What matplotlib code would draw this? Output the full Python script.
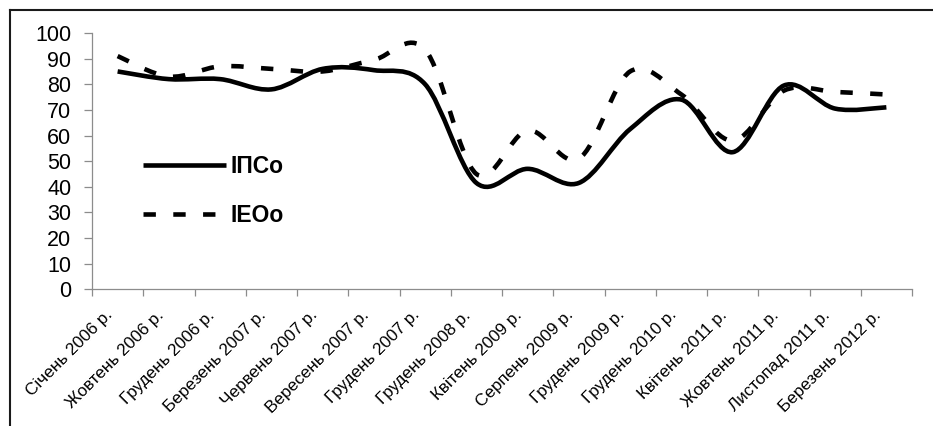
import numpy as np
import matplotlib
matplotlib.use('Agg')
import matplotlib.pyplot as plt
import matplotlib.transforms as mtransforms
from matplotlib.path import Path
from matplotlib.patches import PathPatch
from matplotlib.lines import Line2D

plt.rcParams['font.family'] = ['Liberation Sans', 'DejaVu Sans']

# --- data
months = ['Січень 2006 р.', 'Жовтень 2006 р.', 'Грудень 2006 р.', 'Березень 2007 р.',
          'Червень 2007 р.', 'Вересень 2007 р.', 'Грудень 2007 р.', 'Грудень 2008 р.',
          'Квітень 2009 р.', 'Серпень 2009 р.', 'Грудень 2009 р.', 'Грудень 2010 р.',
          'Квітень 2011 р.', 'Жовтень 2011 р.', 'Листопад 2011 р.', 'Березень 2012 р.']
ipso = [85, 82, 82, 78, 86, 85.5, 80, 41.5, 47, 41.5, 62.5, 74, 53.5, 79.5, 70.5, 71]
ieoo = [91, 83, 87, 86, 85, 89.5, 93.5, 45, 62, 51, 85, 76, 58, 77.5, 77, 76]
yticks = list(range(0, 101, 10))

DASH = (0, (2.7, 3.8))
LW = 3.3


def smooth_path(ys):
    # excel-like smoothed line: cubic bezier through every point
    pts = np.column_stack([np.arange(len(ys), dtype=float), np.asarray(ys, float)])
    n = len(pts)
    verts = [pts[0]]
    codes = [Path.MOVETO]
    for i in range(n - 1):
        p0 = pts[max(i - 1, 0)]
        p1 = pts[i]
        p2 = pts[i + 1]
        p3 = pts[min(i + 2, n - 1)]
        verts += [p1 + (p2 - p0) / 6, p2 - (p3 - p1) / 6, p2]
        codes += [Path.CURVE4] * 3
    return Path(verts, codes)


W, H = 933, 426
fig = plt.figure(figsize=(W / 100, H / 100), dpi=100)
ax = fig.add_axes([92 / W, 1 - 289.3 / H, 820 / W, (289.3 - 33) / H])

ax.add_patch(PathPatch(smooth_path(ipso), fill=False, color='black', lw=LW,
                       capstyle='butt', joinstyle='round'))
ax.add_patch(PathPatch(smooth_path(ieoo), fill=False, color='black', lw=LW,
                       linestyle=DASH, capstyle='butt', joinstyle='round'))

ax.set_xlim(-0.5, len(months) - 0.5)
ax.set_ylim(0, 100)

# axes
for s in ['top', 'right']:
    ax.spines[s].set_visible(False)
for s in ['left', 'bottom']:
    ax.spines[s].set_color('#8c8c8c')
    ax.spines[s].set_linewidth(0.9)

ax.set_yticks(yticks)
ax.set_yticklabels([str(v) for v in yticks], fontsize=15.5)
ax.tick_params(axis='y', length=6, width=0.9, color='#8c8c8c', pad=9)

ax.set_xticks(np.arange(-0.5, len(months), 1))
ax.set_xticklabels([])
ax.tick_params(axis='x', which='major', length=5, width=0.9, color='#8c8c8c')
ax.set_xticks(np.arange(len(months)), minor=True)
ax.set_xticklabels(months, minor=True, rotation=45, ha='right', va='top',
                   rotation_mode='anchor', fontsize=12.3)
ax.tick_params(axis='x', which='minor', length=0, pad=13)
shift = mtransforms.ScaledTranslation(-13 / 100, 0, fig.dpi_scale_trans)
for lab in ax.get_xticklabels(minor=True):
    lab.set_transform(lab.get_transform() + shift)

# legend
handles = [Line2D([], [], color='black', lw=LW, solid_capstyle='butt'),
           Line2D([], [], color='black', lw=LW, linestyle=DASH, dash_capstyle='butt')]
leg = fig.legend(handles, ['ІПСо', 'ІЕОо'], loc='center left',
                 bbox_to_anchor=(143 / W, 1 - 191 / H), bbox_transform=fig.transFigure,
                 frameon=False, borderpad=0, borderaxespad=0, handlelength=3.6,
                 handletextpad=0.2, labelspacing=1.1, prop={'size': 16.5, 'weight': 'bold'})

# chart area border (only left and top visible)
fig.add_artist(Line2D([9.5 / W, 9.5 / W], [0, 1 - 9.5 / H], transform=fig.transFigure,
                      color='#1a1a1a', lw=1.5))
fig.add_artist(Line2D([9.5 / W, 1], [1 - 9.5 / H, 1 - 9.5 / H], transform=fig.transFigure,
                      color='#1a1a1a', lw=1.5))

fig.savefig('out.png', dpi=100)
